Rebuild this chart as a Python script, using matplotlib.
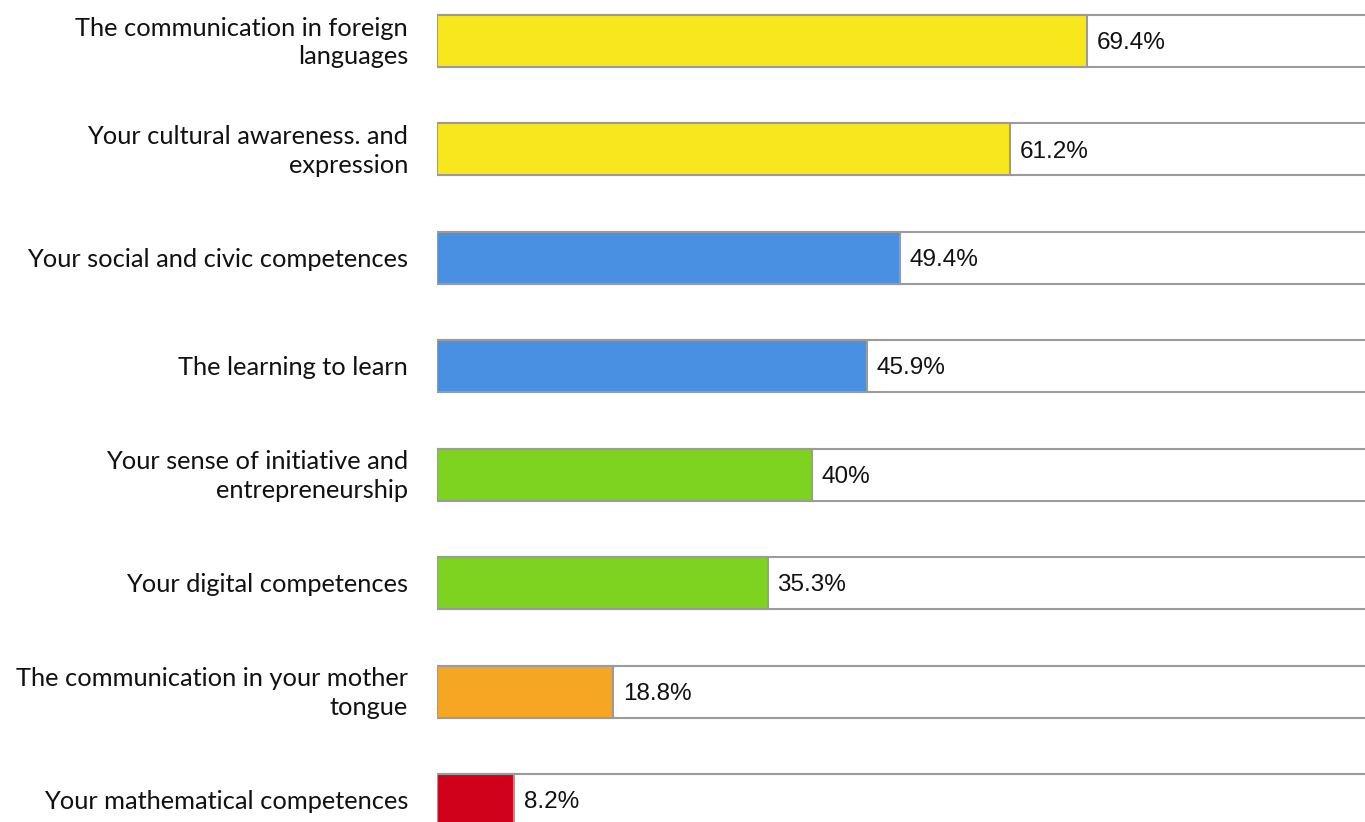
import matplotlib
matplotlib.use("Agg")
import matplotlib.pyplot as plt

categories = [
    "The communication in foreign\nlanguages",
    "Your cultural awareness. and\nexpression",
    "Your social and civic competences",
    "The learning to learn",
    "Your sense of initiative and\nentrepreneurship",
    "Your digital competences",
    "The communication in your mother\ntongue",
    "Your mathematical competences",
]
values = [69.4, 61.2, 49.4, 45.9, 40.0, 35.3, 18.8, 8.2]
value_labels = ["69.4%", "61.2%", "49.4%", "45.9%", "40%", "35.3%", "18.8%", "8.2%"]
colors = ["#F8E71C", "#F8E71C", "#4A90E2", "#4A90E2", "#7ED321", "#7ED321", "#F5A623", "#D0021B"]
full = 100

W, H = 1365, 822
fig = plt.figure(figsize=(W / 100, H / 100), dpi=100)
ax = fig.add_axes([437 / W, 0, (W - 437) / W, 1])
ax.set_xlim(0, (W - 437) / 9.366)
ax.set_ylim(7.203, -0.378)
ax.axis("off")

pos = list(range(len(categories)))
edge = "#9B9B9B"
ax.barh(pos, [full] * len(pos), height=0.48, left=0, color="white",
        edgecolor=edge, linewidth=1.5, zorder=1)
ax.barh(pos, values, height=0.48, left=0, color=colors,
        edgecolor=edge, linewidth=1.5, zorder=2)

for p, v, lab in zip(pos, values, value_labels):
    ax.text(v + 1.05, p + 0.02, lab, va="center", ha="left", fontsize=17.5,
            family="Liberation Sans", color="#111111", zorder=3)

for p, c in zip(pos, categories):
    ax.text(-3.1, p + 0.015, c, va="center", ha="right", fontsize=18.3,
            family="Lato", color="#111111", linespacing=1.3, clip_on=False)

fig.savefig("out.png", dpi=100)
